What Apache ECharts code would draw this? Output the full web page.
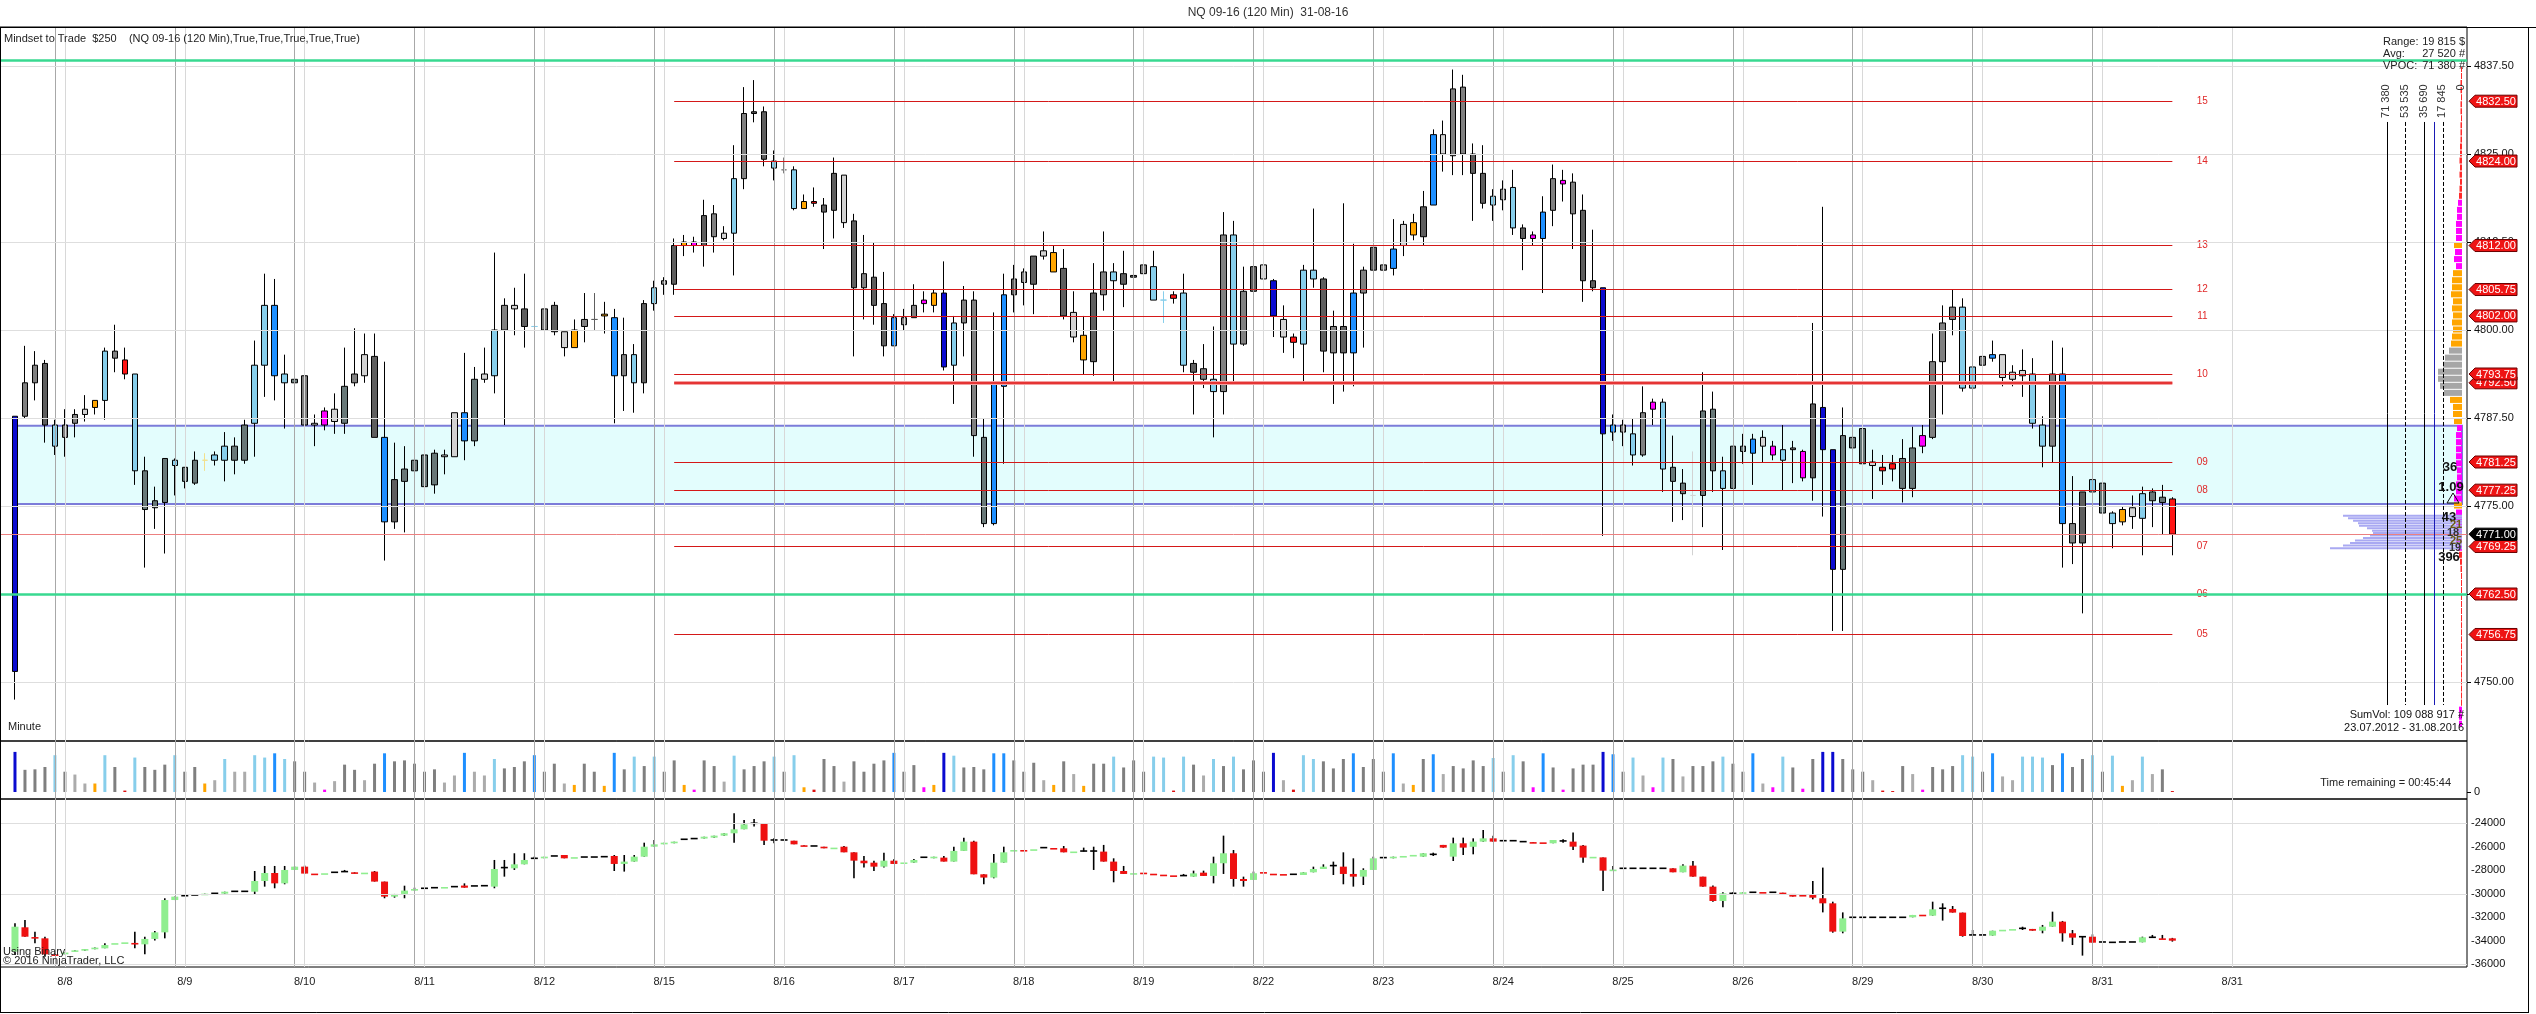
<!DOCTYPE html>
<html><head><meta charset="utf-8">
<script src="https://cdn.jsdelivr.net/npm/echarts@6/dist/echarts.min.js"></script>
<style>html,body{margin:0;padding:0;background:#fff}#c{width:2536px;height:1014px}</style>
</head><body><div id="c"></div>
<script>
// ---------- DATA ----------
const dateLabels = ['8/8','8/9','8/10','8/11','8/12','8/15','8/16','8/17','8/18','8/19','8/22','8/23','8/24','8/25','8/26','8/29','8/30','8/31','8/31'];
const dateIdx = [6,18,30,42,54,66,78,90,102,114,126,138,150,162,174,186,198,210,223];
const sessionIdx = [5,17,29,41,53,65,77,89,101,113,125,137,149,161,173,185,197,209];
const N_CAT = 247;

// price bars [open, close, low, high], bar 1..217
const ohlc = [
[4751.5,4787.75,4747.5,4787.75],[4787.75,4792.5,4787.5,4797.75],[4792.5,4795,4790,4797],[4795.25,4786.5,4784,4795.75],[4786.5,4783.5,4782.25,4787.25],
[4784.75,4786.5,4782,4788.75],[4786.75,4788,4784.75,4788.75],[4788,4788.75,4787,4790.75],[4789,4790,4788,4790],[4790,4797,4787.25,4797.5],
[4797,4796,4794,4800.75],[4795.75,4793.75,4793,4797.5],[4793.75,4780,4778,4793.75],[4780,4774.5,4766.25,4782],[4774.75,4775.75,4771.75,4777.75],
[4775.5,4781.75,4768.25,4781.75],[4781.5,4780.75,4776.5,4781.75],[4780.5,4778.5,4777.5,4780.5],[4778.25,4781.5,4778,4782.75],[4781.5,4781.5,4780,4782.5],
[4781.5,4782.25,4780.75,4782.75],[4781.5,4783.5,4778.5,4785.5],[4783.5,4781.5,4779.5,4784.75],[4781.5,4786.5,4781,4787.25],[4786.75,4795,4782,4798.5],
[4795,4803.5,4790.5,4808],[4803.5,4793.5,4790,4807.25],[4793.75,4792.5,4786,4796.5],[4792.5,4793,4790,4793.75],[4793.5,4786.5,4782,4793.5],
[4786.5,4786.75,4783.5,4788],[4786.5,4788.5,4785.75,4789],[4788.75,4787,4785.25,4791],[4786.75,4792,4785.25,4797.5],[4792.5,4793.75,4792,4800.25],
[4793.5,4796.5,4792.5,4799.5],[4796.25,4784.75,4784.75,4799.5],[4784.75,4772.75,4767.25,4795.5],[4772.75,4778.75,4771.75,4784],[4778.5,4780.25,4771.25,4783.5],
[4780,4781.5,4779,4783],[4782.25,4777.75,4775.75,4782.25],[4778,4782.5,4776.75,4783],[4782.25,4782,4779.5,4783],[4782,4788.25,4782,4788.25],
[4788.25,4784.25,4781.5,4796.75],[4784.25,4793,4783.5,4794.75],[4793,4793.75,4792.5,4797.5],[4793.5,4800,4791,4811],[4800,4803.5,4786.5,4804.5],
[4803.5,4803,4799.25,4806],[4803,4800.5,4797.5,4808],[4800.5,4800.5,4796.5,4802.25],[4800,4803,4799.25,4805],[4803.5,4799.75,4799.25,4804],
[4799.75,4797.5,4796.25,4799.75],[4797.5,4800,4797.5,4801.5],[4800.5,4801.5,4798.25,4805.25],[4801.5,4801.5,4800,4805.25],[4802,4802.25,4799.5,4804],
[4801.75,4793.5,4786.75,4803],[4793.5,4796.5,4788.5,4801.75],[4796.5,4792.5,4788.25,4798],[4792.5,4803.75,4791,4804.25],[4803.75,4806,4802.75,4807],
[4806.5,4807,4805,4807.5],[4806.5,4812,4805,4813],[4812,4812.5,4810.5,4813.5],[4812.5,4812,4811,4813.25],[4812,4816.25,4809,4818.5],
[4816.5,4813.25,4811,4817.75],[4813,4813.75,4812.75,4814.75],[4813.75,4821.5,4807.75,4826.25],[4821.5,4830.75,4820,4834.5],[4830.75,4831,4829.5,4835.5],
[4831,4824.25,4823.25,4831.75],[4824,4823,4821.25,4825.5],[4822.75,4822.75,4822.25,4824.5],[4822.75,4817.25,4817,4823.25],[4817.25,4818.25,4817.25,4819.25],
[4818.25,4818,4817.5,4820.25],[4817.75,4816.75,4811.5,4818.75],[4817,4822.25,4813,4824.5],[4822,4815.25,4814.5,4822],[4815.5,4806,4796.25,4816.5],
[4806,4808,4801.5,4813.5],[4807.5,4803.5,4800.75,4812.5],[4803.75,4797.75,4796.25,4808.25],[4797.75,4801.75,4797.75,4802.25],[4801.75,4800.75,4800,4803],
[4801.75,4803.5,4801.75,4806.5],[4803.75,4804.25,4802.5,4805.5],[4803.5,4805.25,4802.5,4805.75],[4805.25,4794.75,4794.25,4809.75],[4795,4801,4789.5,4802],
[4801,4804.25,4796.25,4806.25],[4804.25,4785,4782,4805.5],[4784.75,4772.5,4772,4787.5],[4772.5,4792.5,4772.25,4802.5],[4792,4805,4781,4808],
[4805,4807.25,4802.5,4809.25],[4806.75,4808.25,4803.5,4808.75],[4806.5,4810.5,4802.25,4810.5],[4810.5,4811.25,4810,4814],[4811,4808.25,4808.25,4812],
[4808.75,4802,4801.5,4811.5],[4802.5,4799,4798.25,4805.5],[4799.25,4795.75,4793.75,4802],[4795.5,4805.25,4793.5,4809.5],[4805,4808.25,4802.75,4814],
[4808.25,4807,4792.75,4809.5],[4806.5,4808,4803.25,4811.25],[4807.75,4807.5,4806.75,4810.25],[4808,4809.25,4806.5,4810.5],[4809,4804.25,4804.25,4811.25],
[4804.25,4804.25,4801,4805.5],[4805,4804.5,4803.75,4805.5],[4805.25,4795,4794,4808],[4795.25,4794,4788,4795.75],[4794.5,4793,4791.75,4798],
[4793,4791.25,4784.75,4800.5],[4791.25,4813.5,4788,4816.75],[4813.5,4798,4792.75,4815.5],[4798,4805.5,4797.75,4809],[4805.5,4809,4805,4809],
[4809.25,4807.25,4804.25,4809.5],[4807,4802,4799,4807.25],[4801.5,4799,4796.75,4803.5],[4799,4798.25,4796,4799.5],[4798,4808.5,4792.75,4809.25],
[4808.5,4807.25,4806,4817.25],[4807.25,4797,4794,4807.5],[4796.75,4800.5,4789.5,4802.75],[4800.5,4796.75,4791.25,4818],[4796.75,4805.25,4792,4812.25],
[4805.25,4808.5,4797.5,4809],[4808.5,4811.75,4808.25,4814],[4809.25,4808.5,4808,4812],[4808.75,4811.5,4807.75,4815.75],[4812,4815,4810.5,4815.5],
[4815.25,4813.5,4812.75,4816.5],[4813.25,4817.5,4812,4819.75],[4817.75,4827.75,4817.75,4828.5],[4827.75,4825,4822.5,4829.75],[4824.75,4834.25,4822,4837],
[4834.5,4825,4822,4836.25],[4825,4822.25,4815.5,4826.5],[4822.25,4818,4817.25,4826.25],[4817.75,4819,4815.5,4820],[4818.5,4820,4817,4821.25],
[4820.25,4814.5,4813.5,4822.75],[4814.5,4813,4808.5,4815],[4813,4813.5,4812,4814],[4813,4816.75,4805.25,4819],[4817,4821.5,4814.75,4823.5],
[4821.25,4820.75,4818.25,4822.75],[4821,4816.5,4811.5,4822.25],[4817,4807,4804,4819.25],[4807,4806,4805.5,4814.25],[4806,4785.25,4770.75,4806],
[4785.5,4786.5,4784.25,4788],[4786.5,4785.5,4783.5,4787.25],[4785.25,4782.25,4780.75,4787.5],[4782.25,4788.25,4782,4792],[4788.75,4789.75,4786.5,4790.25],
[4789.75,4780.25,4777,4790.25],[4780.5,4778.5,4772.75,4785],[4778.25,4776.75,4773,4780.25],[4776.5,4776.5,4768,4782.75],[4776.5,4788.5,4772,4794],
[4788.75,4780,4777,4791.25],[4780,4777.5,4768.75,4782],[4777.5,4783.5,4777.5,4783.5],[4783.5,4782.75,4781,4785.25],[4782.5,4784.5,4778,4785.25],
[4784.75,4783.5,4781.25,4785.75],[4783.5,4782.25,4781.5,4784.25],[4781.5,4783,4777.25,4786.5],[4783,4783.25,4778.25,4784.25],[4782.75,4779,4778.5,4783],
[4779,4789.5,4775.75,4801],[4789,4783,4773.5,4817.5],[4783,4766,4757.25,4783],[4766,4785,4757.25,4789],[4784.75,4783.25,4783,4788.75],
[4786,4781,4774,4788.5],[4781.25,4780.75,4776,4783],[4780.5,4780,4778,4782.25],[4780.25,4781,4778.5,4782.25],[4781.75,4777.5,4775.5,4784.5],
[4777.5,4783.25,4776.25,4786.25],[4783.5,4785,4782.5,4786.5],[4784.75,4795.5,4784.5,4799.5],[4795.5,4801,4788,4803.5],[4801.5,4803.25,4799.25,4805.75],
[4803.25,4791.75,4791.25,4804.5],[4791.75,4794.75,4790.75,4796],[4795,4796.25,4793.5,4796.75],[4796,4796.5,4795.5,4798.5],[4796.5,4793.25,4792,4796.5],
[4793,4794,4792,4795],[4794.25,4793.5,4790.5,4797.25],[4793.75,4786.75,4786,4796],[4786.5,4783.5,4780.5,4787.75],[4783.5,4793.75,4781.25,4798.5],
[4793.75,4772.5,4766.25,4797.5],[4772.5,4769.75,4766.75,4779.25],[4769.75,4777,4759.75,4777],[4777,4778.75,4773.75,4779.5],[4778.25,4774,4773.75,4779.25],
[4774,4772.5,4769,4774.25],[4772.75,4774.5,4772.25,4775],[4773.5,4774.75,4771.75,4776.5],[4773.25,4776.75,4768,4777.75],[4777,4775.75,4772,4777.5],
[4775.5,4776.25,4771,4778],[4776,4771,4768,4776.25]
];
const barColors = ('DB G G DG LB G G LG O LB G R LB SL SL SL LB SL SL Y LB LB SL SL LB LB B LB SL G LG M LG SL G LG DG B DG SL SL SL SL LG LG B SL LG LB G LG DG LB G DG ' +
'LG O G DG O B G LB DG LB G DG O M DG G LG LB G DG DG LB G LB O R DG DG LG DG G DG DG B G G M O DB LB G G SL B B DG G DG LG O DG LG O DG G ' +
'LB DG DG G LB LB R LB DG G LB G LB G DG LG DB LG R LB LB DG G DG B G DG G B LG O DG B LG G G DG DG LB G LB DG M B G M G DG DG DB B G LB G M LB ' +
'SL SL LG SL SL LB SL SL B LG M LB G M DG DB DB SL SL SL LG R R SL SL M G G G LB LB G B LG LG LG LB LB G B G DG LB SL LB O LG LB SL SL R').split(' ');

const volume = [85,47,48,53,78,43,37,18,18,78,53,3,73,53,47,58,78,43,53,18,25,70,43,43,78,73,82,70,65,43,20,5,23,58,47,25,60,82,65,67,60,43,48,20,35,83,43,35,70,50,53,65,78,43,60,
18,15,60,43,13,83,48,75,55,75,43,67,15,5,67,55,22,77,48,55,65,75,43,78,10,5,70,55,22,65,43,60,67,83,43,57,10,15,83,77,52,53,48,82,82,67,43,62,25,15,65,38,13,60,60,
75,52,67,43,75,73,3,75,58,35,70,55,75,48,67,43,83,25,5,78,70,65,50,70,82,53,70,43,82,18,15,70,80,38,55,50,67,55,72,43,78,65,10,82,52,5,50,58,58,85,80,43,73,35,10,73,
70,33,55,55,65,75,60,43,82,18,10,75,52,7,70,85,85,70,48,43,25,3,2,55,38,5,53,48,55,78,75,43,82,33,25,75,75,73,57,82,53,70,78,43,77,13,25,75,38,48,2];
const volColors = ('DB G G G LB G LG LG O LB G R LB G G G LB G G O LG LB LG LG LB LB B LB G G LG M LG G G LG G B G G G G G LG LG B LG LG LB G G G B G G ' +
'LG O G G O B G LB G LB G G O M G G LG LB G G G LB G LB O R G G LG G G G G B G G M O DB LB G G G B B G G G LG O G LG O G G ' +
'LB G G G LB LB R LB G LG LB G LB G G G DB LG R LB LB G G G B G G G B LG O G B LG G G G G LB G LB G M B G M G G G DB B G LB LG M LB ' +
'G LG G G G LB G G B LG M LB G M G DB DB G G G LG R R G LG M G G G LB LB G B LG LG LB LB LB G B G G LB G LB O LG LB LG G R').split(' ');

// lower panel (cumulative delta, "Using Binary") [open, close, low, high]
const delta = [
[-34920,-32800,-35200,-32510],[-32850,-33650,-33650,-32230],[-33680,-33720,-34210,-33220],[-33790,-35150,-35350,-33650],[-35150,-35290,-35290,-35150],
[-35150,-35000,-35150,-35000],[-34920,-34810,-34920,-34810],[-34840,-34700,-34840,-34700],[-34720,-34580,-34720,-34580],[-34640,-34360,-34640,-34210],
[-34240,-34200,-34240,-34200],[-34150,-34130,-34150,-34130],[-34180,-34230,-34640,-33220],[-34300,-33840,-35150,-33650],[-33840,-33280,-33980,-33160],
[-33280,-30530,-33790,-30380],[-30530,-30240,-30530,-30240],[-30160,-30160,-30160,-30160],[-30100,-30100,-30100,-30100],[-30100,-29990,-30100,-29990],
[-29960,-29960,-29960,-29960],[-29990,-29820,-29990,-29820],[-29790,-29790,-29790,-29790],[-29790,-29790,-29790,-29790],[-29820,-28910,-30040,-28060],
[-28910,-28230,-29390,-27630],[-28230,-29110,-29530,-27630],[-29110,-27970,-29190,-27630],[-27970,-27690,-27970,-27690],[-27690,-28280,-28280,-27600],
[-28280,-28310,-28310,-28280],[-28280,-28250,-28280,-28250],[-28170,-28170,-28170,-28170],[-28110,-28110,-28110,-27970],[-28170,-28280,-28280,-28170],
[-28230,-28200,-28230,-28200],[-28110,-28960,-28960,-28060],[-28960,-30240,-30380,-28960],[-30240,-30010,-30330,-30010],[-30010,-29730,-30380,-29310],
[-29730,-29590,-29730,-29480],[-29530,-29530,-29530,-29530],[-29480,-29480,-29480,-29480],[-29500,-29420,-29500,-29420],[-29390,-29390,-29390,-29390],
[-29300,-29480,-29480,-29110],[-29330,-29330,-29330,-29330],[-29310,-29310,-29310,-29310],[-29390,-27890,-29530,-27120],[-27770,-27770,-28540,-27120],
[-27830,-27490,-27970,-26550],[-27490,-27120,-27490,-26550],[-26980,-26980,-26980,-26840],[-26980,-26840,-26980,-26840],[-26780,-26780,-26780,-26780],
[-26700,-26980,-26980,-26700],[-26920,-26880,-26920,-26880],[-26870,-26870,-26870,-26870],[-26870,-26870,-26870,-26870],[-26840,-26840,-26840,-26840],
[-26780,-27460,-28060,-26700],[-27460,-27260,-28110,-26700],[-27260,-26840,-27260,-26700],[-26840,-25990,-26840,-25650],[-25990,-25790,-25990,-25420],
[-25790,-25650,-25790,-25650],[-25700,-25560,-25700,-25560],[-25360,-25360,-25360,-25360],[-25300,-25300,-25300,-25300],[-25300,-25140,-25300,-25140],
[-25220,-25050,-25220,-25050],[-25050,-24850,-25050,-24850],[-24850,-24510,-25650,-23150],[-24510,-24090,-24510,-23720],[-24000,-24000,-24280,-23630],
[-24060,-25480,-25840,-24000],[-25420,-25420,-25700,-25280],[-25420,-25420,-25420,-25420],[-25480,-25790,-25790,-25480],[-25870,-25930,-25930,-25870],
[-25930,-25930,-25930,-25930],[-25990,-26130,-26130,-25990],[-26100,-26070,-26100,-26070],[-25990,-26470,-26470,-25930],[-26470,-27180,-28680,-26470],
[-27180,-27400,-27770,-26780],[-27350,-27690,-28060,-27180],[-27690,-27180,-27770,-26500],[-27180,-27460,-27460,-27060],[-27360,-27330,-27360,-27330],
[-27350,-27120,-27350,-27040],[-26890,-26890,-26890,-26890],[-26980,-26840,-26980,-26840],[-26920,-27260,-27260,-26780],[-27260,-26350,-27260,-25990],
[-26350,-25560,-26350,-25220],[-25560,-28340,-28340,-25480],[-28340,-28620,-29190,-28340],[-28620,-27350,-28680,-26610],[-27350,-26470,-27350,-25990],
[-26360,-26270,-26360,-26270],[-26270,-26300,-26300,-26270],[-26240,-26210,-26240,-26210],[-26070,-26070,-26070,-26070],[-26100,-26140,-26140,-26100],
[-26130,-26470,-26470,-25930],[-26440,-26400,-26440,-26400],[-26360,-26360,-26400,-26070],[-26360,-26360,-27970,-25990],[-26410,-27260,-27260,-25840],
[-27260,-28060,-29020,-26980],[-28060,-28310,-28310,-27630],[-28270,-28240,-28270,-28240],[-28200,-28230,-28230,-28200],[-28290,-28320,-28320,-28290],
[-28370,-28400,-28400,-28370],[-28430,-28460,-28460,-28430],[-28450,-28450,-28450,-28310],[-28540,-28260,-28540,-28030],[-28200,-28480,-28480,-28030],
[-28480,-27400,-29110,-26840],[-27400,-26550,-28310,-25050],[-26550,-28740,-29390,-26270],[-28740,-28910,-29390,-28540],[-28820,-28250,-28820,-28110],
[-28150,-28180,-28180,-28150],[-28290,-28320,-28320,-28290],[-28320,-28360,-28360,-28320],[-28340,-28340,-28340,-28340],[-28400,-28170,-28400,-28170],
[-28170,-27890,-28170,-27690],[-27890,-27690,-27890,-27490],[-27600,-27600,-28400,-27260],[-27690,-28310,-29190,-26470],[-28310,-28540,-29390,-26980],
[-28540,-27970,-29250,-27830],[-27970,-26980,-27970,-26840],[-26920,-26920,-26920,-26920],[-26980,-26840,-26980,-26840],[-26810,-26780,-26810,-26780],
[-26720,-26690,-26720,-26690],[-26840,-26550,-26840,-26550],[-26640,-26640,-26780,-26500],[-25840,-26070,-26070,-25840],[-26840,-25700,-27210,-25220],
[-25700,-26070,-26700,-25220],[-26000,-25560,-26640,-25280],[-25560,-25280,-25560,-24570],[-25280,-25560,-25560,-25050],[-25480,-25480,-25480,-25480],
[-25480,-25480,-25480,-25480],[-25560,-25560,-25560,-25560],[-25600,-25650,-25650,-25600],[-25620,-25660,-25660,-25620],[-25700,-25420,-25700,-25420],
[-25500,-25500,-25650,-25360],[-25560,-25990,-26270,-24790],[-25900,-26920,-27350,-25840],[-26880,-26850,-26880,-26850],[-26900,-28030,-29760,-26900],
[-27970,-27940,-27970,-27630],[-27830,-27830,-27830,-27830],[-27830,-27830,-27830,-27830],[-27830,-27830,-27830,-27830],[-27830,-27830,-27830,-27830],
[-27830,-27830,-27830,-27830],[-27830,-28170,-28170,-27830],[-28170,-27600,-28170,-27490],[-27600,-28540,-28540,-27210],[-28540,-29390,-29390,-28540],
[-29390,-30610,-30670,-29300],[-30610,-29960,-31150,-29870],[-29960,-29960,-30100,-29870],[-29960,-29870,-29960,-29870],[-29870,-29870,-29870,-29870],
[-29850,-29890,-29890,-29850],[-29870,-29870,-29870,-29870],[-29900,-29990,-29990,-29900],[-30010,-30240,-30240,-30010],[-30100,-30190,-30190,-30010],
[-30100,-30330,-30470,-28910],[-30380,-30810,-31580,-27770],[-30810,-33220,-33310,-30670],[-33220,-32090,-33360,-31580],[-32000,-32000,-32000,-32000],
[-32000,-32000,-32000,-32000],[-32000,-32000,-32000,-32000],[-32000,-32000,-32000,-32000],[-32000,-32000,-32000,-32000],[-32000,-32000,-32000,-32000],
[-32000,-31800,-32000,-31800],[-31780,-31820,-31820,-31780],[-31860,-31320,-31860,-30670],[-31230,-31230,-32280,-30810],[-31290,-31600,-31600,-31040],
[-31600,-33590,-33650,-31600],[-33500,-33500,-33500,-33080],[-33500,-33500,-33500,-33500],[-33560,-33140,-33560,-33140],[-33100,-33060,-33100,-33060],
[-33040,-33000,-33040,-33000],[-32940,-32940,-33080,-32800],[-32990,-33140,-33140,-32990],[-33140,-32800,-33360,-32650],[-32800,-32370,-32800,-31520],
[-32370,-33360,-34070,-32310],[-33360,-33730,-34360,-33080],[-33650,-33650,-35260,-33650],[-33650,-34160,-34160,-33450],[-34100,-34100,-34100,-34100],
[-34130,-34130,-34130,-34130],[-34100,-34100,-34100,-34100],[-34100,-34100,-34100,-34100],[-34130,-33700,-34130,-33650],[-33700,-33700,-33700,-33500],
[-33790,-33850,-33850,-33500],[-33790,-33990,-34070,-33750]
];

const priceTicks = [4750, 4762.5, 4775, 4787.5, 4800, 4812.5, 4825, 4837.5];
const deltaTicks = [-24000, -26000, -28000, -30000, -32000, -34000, -36000];
const deltaGrid = [-24000, -30000, -36000];

const levelPrices = [4832.5, 4824, 4812, 4805.75, 4802, 4793.75, 4781.25, 4777.25, 4769.25, 4762.5, 4756.75];
const levelNames = ['15','14','13','12','11','10','09','08','07','06','05'];
const thickLevel = 4792.5;
const tagPrices = [4832.5, 4824, 4812, 4805.75, 4802, 4792.5, 4793.75, 4781.25, 4777.25, 4769.25, 4771, 4762.5, 4756.75];
const currentPrice = 4771;
const greenLevels = [4838.25, 4762.5];
const band = [4775.3, 4786.4];

// volume profile on the right [price, volume, colour]
const profile = [
[4837,950,'R'],[4836,950,'R'],[4835,1430,'R'],[4834,1430,'R'],[4833,950,'R'],[4832,1430,'R'],[4831,1430,'R'],[4830,950,'R'],
[4829,1430,'R'],[4828,1430,'R'],[4827,1430,'R'],[4826,1900,'R'],[4825,1900,'R'],[4824,2380,'R'],[4823,1900,'R'],[4822,2380,'R'],
[4821,1900,'R'],[4820,2380,'R'],[4819,2860,'R'],[4818,3810,'M'],[4817,4760,'M'],[4816,4760,'M'],[4815,5710,'M'],[4814,5710,'M'],
[4813,5710,'M'],[4812,7610,'O'],[4811,6660,'M'],[4810,7610,'M'],[4809,5710,'M'],[4808,8570,'O'],[4807,9520,'O'],[4806,9520,'O'],
[4805,10470,'O'],[4804,8570,'O'],[4803,9520,'O'],[4802,8570,'O'],[4801,9520,'O'],[4800,8570,'O'],[4799,9520,'O'],[4798,10470,'O'],
[4797,12370,'G'],[4796,16180,'G'],[4795,18080,'G'],[4794,22840,'G'],[4793,22840,'G'],[4792,20940,'G'],[4791,17130,'G'],[4790,11420,'O'],
[4789,8570,'O'],[4788,8570,'O'],[4787,7610,'O'],[4786,4760,'M'],[4785,5710,'M'],[4784,5710,'M'],[4783,5710,'M'],[4782,5710,'M'],
[4781,5710,'M'],[4780,4760,'M'],[4779,4760,'M'],[4778,5710,'M'],[4777,5710,'M'],[4776,7610,'M'],[4775,7610,'O'],[4774,5710,'M'],
[4773,6660,'M'],[4772,5710,'M'],[4771,4760,'M'],[4770,5710,'M'],[4769,3810,'M'],[4768,2860,'R'],[4767,1900,'R'],[4766,1430,'R'],
[4765,950,'R'],[4764,950,'R'],[4763,950,'R'],[4762,950,'R'],[4761,950,'R'],[4760,950,'R'],[4759,950,'R'],[4758,950,'R'],
[4757,950,'R'],[4756,950,'R'],[4755,950,'R'],[4754,950,'R'],[4753,950,'R'],[4752,950,'R'],[4751,950,'R'],[4750,950,'R'],
[4749,950,'R'],[4748,950,'R'],[4747,950,'R'],[4746,2860,'M'],[4745,2860,'M'],[4744,2860,'M']
];
const lavPrice = [4773.6,4773.25,4772.9,4772.55,4772.2,4771.85,4771.5,4771.15,4770.8,4770.45,4770.1,4769.75,4769.4,4769.0];
const lavVol = [113250,108500,103700,98980,98030,90410,85650,84700,87560,94220,101830,106590,113250,125620];
const scaleValues = [71380, 53535, 35690, 17845, 0];
const scaleDashed = [false, true, false, true];
const avgLine = 26650;

// ---------- HELPERS ----------
const FONT = '"Liberation Sans", Arial, sans-serif';
const candleCol = {DB:'#0b0bd0',B:'#1e8fff',LB:'#87ceeb',G:'#808080',DG:'#5e5e5e',LG:'#d2d2d2',SL:'#687878',O:'#ffa500',R:'#ff1414',M:'#ff00ff',Y:'#f2e08c'};
const volCol = {DB:'#0b0bd0',B:'#1e8fff',LB:'#87ceeb',G:'#7f7f7f',LG:'#ababab',O:'#ffa500',R:'#dd1010',M:'#ff00ff'};
const profCol = {R:'#ff2a2a',M:'#ff00ff',O:'#ffa500',G:'#a6a6a6'};

const cats = [];
for (let i = 0; i < N_CAT; i++) cats.push(String(i));
const labelAt = {};
dateIdx.forEach((ix, k) => { labelAt[ix] = dateLabels[k]; });

const candleData = ohlc.map((b, k) => {
  const c = candleCol[barColors[k]];
  const doji = b[0] === b[1];
  const bc = doji ? c : '#000';
  return {value: [k + 1, b[0], b[1], b[2], b[3]],
    itemStyle: {color: c, color0: c, borderColor: bc, borderColor0: bc, borderColorDoji: bc}};
});
const volData = volume.map((v, k) => ({value: [k + 1, v], itemStyle: {color: volCol[volColors[k]]}}));
const deltaData = delta.map((b, k) => [k + 1, b[0], b[1], b[2], b[3]]);

function vLines(){
  const arr = [];
  sessionIdx.forEach(i => arr.push({xAxis: i, lineStyle: {color: '#a8a8a8', width: 1, type: 'solid'}}));
  dateIdx.forEach(i => arr.push({xAxis: i, lineStyle: {color: '#d8d8d8', width: 1, type: 'solid'}}));
  return arr;
}
const mlBase = {symbol: ['none','none'], silent: true, label: {show: false}, animation: false};

const priceLines = [];
levelPrices.forEach(p => priceLines.push([{coord: [67, p], lineStyle: {color: '#d41818', width: 1, type: 'solid'}}, {coord: [217, p]}]));
priceLines.push([{coord: [67, thickLevel], lineStyle: {color: '#f4a0a0', width: 4, type: 'solid'}}, {coord: [217, thickLevel]}]);
priceLines.push([{coord: [67, thickLevel], lineStyle: {color: '#e01010', width: 1.5, type: 'solid'}}, {coord: [217, thickLevel]}]);
priceLines.push({yAxis: currentPrice, lineStyle: {color: '#ec8080', width: 1, type: 'solid'}});
greenLevels.forEach(p => priceLines.push({yAxis: p, lineStyle: {color: '#38d990', width: 2.5, type: 'solid'}}));
priceLines.push([{coord: [71, 4762.5], lineStyle: {color: '#38d990', width: 2.5, type: 'solid'}}, {coord: [71, 4741.6]}]);

const txt = (x, y, text, opt) => ({type: 'text', x, y, z: 50, style: Object.assign({text, fill: '#222', font: '11px ' + FONT, align: 'left', verticalAlign: 'middle', textAlign: 'left', textVerticalAlign: 'middle'}, opt || {})});

// ---------- CHART ----------
const chart = echarts.init(document.getElementById('c'), null, {renderer: 'canvas'});
const option = {
  animation: false,
  backgroundColor: '#ffffff',
  grid: [
    {left: -1, top: 27, width: 2468, height: 714, show: true, borderColor: '#000', borderWidth: 1, backgroundColor: 'transparent'},
    {left: -1, top: 741, width: 2468, height: 58, show: true, borderColor: '#000', borderWidth: 1, backgroundColor: 'transparent'},
    {left: -1, top: 799, width: 2468, height: 168, show: true, borderColor: '#000', borderWidth: 1, backgroundColor: 'transparent'},
    {left: 2300, top: 27, width: 162, height: 714, show: false}
  ],
  xAxis: [
    {gridIndex: 0, type: 'category', data: cats, boundaryGap: true, axisLine: {show: false}, axisTick: {show: false}, axisLabel: {show: false}, splitLine: {show: false}},
    {gridIndex: 1, type: 'category', data: cats, boundaryGap: true, axisLine: {show: false}, axisTick: {show: false}, axisLabel: {show: false}, splitLine: {show: false}},
    {gridIndex: 2, type: 'category', data: cats, boundaryGap: true, axisLine: {show: false}, axisTick: {show: false}, splitLine: {show: false},
      axisLabel: {show: true, interval: 0, margin: 9, color: '#222', fontSize: 11, fontFamily: FONT, formatter: (v, i) => labelAt[i] || ''}},
    {gridIndex: 3, type: 'value', inverse: true, min: 0, max: 154180, show: false}
  ],
  yAxis: [
    {gridIndex: 0, type: 'value', position: 'right', min: 4741.62, max: 4843.04, splitLine: {show: false}, axisLine: {show: false},
      axisTick: {show: true, length: 4, lineStyle: {color: '#000'}, customValues: priceTicks},
      axisLabel: {customValues: priceTicks, formatter: v => Number(v).toFixed(2), margin: 7, color: '#111', fontSize: 11, fontFamily: FONT}},
    {gridIndex: 1, type: 'value', position: 'right', min: -14.84, max: 108.1, splitLine: {show: false}, axisLine: {show: false},
      axisTick: {show: true, length: 4, lineStyle: {color: '#000'}, customValues: [0]},
      axisLabel: {customValues: [0], formatter: v => (Math.abs(v) < 1e-6 ? '0' : ''), margin: 7, color: '#111', fontSize: 11, fontFamily: FONT}},
    {gridIndex: 2, type: 'value', position: 'right', min: -36229, max: -21932, splitLine: {show: false}, axisLine: {show: false},
      axisTick: {show: false, customValues: deltaTicks},
      axisLabel: {customValues: deltaTicks, formatter: v => String(Math.round(v)), margin: 4, color: '#111', fontSize: 11, fontFamily: FONT}},
    {gridIndex: 3, type: 'value', min: 4741.62, max: 4843.04, show: false}
  ],
  series: [
    {type: 'line', xAxisIndex: 0, yAxisIndex: 0, data: [], z: 0,
      markArea: {silent: true, itemStyle: {color: '#e3fdfd', borderColor: '#7c7cd9', borderWidth: 2},
        data: [[{xAxis: 1, yAxis: band[0]}, {xAxis: 246, yAxis: band[1]}]]}},
    {type: 'line', xAxisIndex: 0, yAxisIndex: 0, data: [], z: 1,
      markLine: Object.assign({}, mlBase, {data: vLines().concat(priceTicks.map(p => ({yAxis: p, lineStyle: {color: '#dedede', width: 1, type: 'solid'}})))})},
    {type: 'line', xAxisIndex: 0, yAxisIndex: 0, data: [], z: 2,
      markLine: Object.assign({}, mlBase, {data: priceLines})},
    {type: 'candlestick', xAxisIndex: 0, yAxisIndex: 0, z: 3, barWidth: 6, encode: {x: 0, y: [1, 2, 3, 4]},
      itemStyle: {borderWidth: 1}, data: candleData},
    {type: 'custom', xAxisIndex: 0, yAxisIndex: 0, z: 4, clip: false,
      data: levelPrices.map(p => [220, p]),
      renderItem: (params, api) => {
        const pt = api.coord([api.value(0), api.value(1)]);
        return {type: 'text', x: pt[0], y: pt[1], style: {text: levelNames[params.dataIndex], fill: '#e02828', font: '10px ' + FONT,
          align: 'center', verticalAlign: 'middle', textAlign: 'center', textVerticalAlign: 'middle'}};
      }},
    {type: 'custom', xAxisIndex: 0, yAxisIndex: 0, z: 10, clip: false,
      data: tagPrices.map(p => [0, p]),
      renderItem: (params, api) => {
        const p = api.value(1);
        const y = api.coord([0, p])[1];
        const x0 = params.coordSys.x + params.coordSys.width;
        const black = p === currentPrice;
        return {type: 'group', children: [
          {type: 'polygon', shape: {points: [[x0 + 2, y], [x0 + 8, y - 6], [x0 + 50, y - 6], [x0 + 50, y + 6], [x0 + 8, y + 6]]},
            style: {fill: black ? '#000' : '#ee1414', stroke: black ? '#000' : '#6a0000', lineWidth: 1}},
          {type: 'text', x: x0 + 29, y: y + 0.5, style: {text: p.toFixed(2), fill: '#fff', font: '11px ' + FONT,
            align: 'center', verticalAlign: 'middle', textAlign: 'center', textVerticalAlign: 'middle'}}
        ]};
      }},
    {type: 'line', xAxisIndex: 1, yAxisIndex: 1, data: [], z: 1, markLine: Object.assign({}, mlBase, {data: vLines()})},
    {type: 'bar', xAxisIndex: 1, yAxisIndex: 1, z: 3, barWidth: 3, data: volData},
    {type: 'line', xAxisIndex: 2, yAxisIndex: 2, data: [], z: 1,
      markLine: Object.assign({}, mlBase, {data: vLines().concat(deltaGrid.map(v => ({yAxis: v, lineStyle: {color: '#dedede', width: 1, type: 'solid'}})))})},
    {type: 'custom', xAxisIndex: 2, yAxisIndex: 2, z: 3, data: deltaData,
      renderItem: (params, api) => {
        const x = api.coord([api.value(0), 0])[0];
        const o = api.value(1), c = api.value(2), l = api.value(3), h = api.value(4);
        const yo = api.coord([0, o])[1], yc = api.coord([0, c])[1], yl = api.coord([0, l])[1], yh = api.coord([0, h])[1];
        const ch = [];
        if (Math.abs(yl - yh) > 0.5) ch.push({type: 'line', shape: {x1: x, y1: yh, x2: x, y2: yl}, style: {stroke: '#000', lineWidth: 1.6}});
        if (o === c) {
          ch.push({type: 'line', shape: {x1: x - 3.5, y1: yo, x2: x + 3.5, y2: yo}, style: {stroke: '#000', lineWidth: 1.6}});
        } else {
          const top = Math.min(yo, yc), hh = Math.max(1.6, Math.abs(yo - yc));
          ch.push({type: 'rect', shape: {x: x - 3.5, y: top, width: 7, height: hh}, style: {fill: c > o ? '#90ee90' : '#ee1111'}});
        }
        return {type: 'group', children: ch};
      }},
    {type: 'custom', xAxisIndex: 3, yAxisIndex: 3, z: 4, clip: false,
      data: profile.map(r => [r[1], r[0]]),
      renderItem: (params, api) => {
        const v = api.value(0), p = api.value(1);
        const a = api.coord([v, p + 0.5]), b = api.coord([0, p - 0.5]);
        return {type: 'rect', shape: {x: a[0], y: a[1], width: Math.max(1, b[0] - a[0]), height: Math.max(1, b[1] - a[1] - 1)},
          style: {fill: profCol[profile[params.dataIndex][2]]}};
      }},
    {type: 'custom', xAxisIndex: 3, yAxisIndex: 3, z: 4, clip: false,
      data: lavPrice.map((p, k) => [lavVol[k], p]),
      renderItem: (params, api) => {
        const a = api.coord([api.value(0), api.value(1)]), b = api.coord([0, api.value(1)]);
        return {type: 'rect', shape: {x: a[0], y: a[1] - 1, width: b[0] - a[0], height: 2}, style: {fill: '#a9a9f2'}};
      }},
    {type: 'line', xAxisIndex: 3, yAxisIndex: 3, data: [], z: 3,
      markLine: Object.assign({}, mlBase, {data:
        scaleValues.slice(0, 4).map((v, k) => [{coord: [v, 4829.55], lineStyle: {color: '#000', width: 1, type: scaleDashed[k] ? 'dashed' : 'solid'}}, {coord: [v, 4746.73]}])
        .concat([[{coord: [avgLine, 4829.55], lineStyle: {color: '#1a1ab4', width: 1, type: 'solid'}}, {coord: [avgLine, 4746.73]}]])})},
    {type: 'custom', xAxisIndex: 3, yAxisIndex: 3, z: 5, clip: false,
      data: scaleValues.map(v => [v, 4834.9]),
      renderItem: (params, api) => {
        const pt = api.coord([api.value(0), api.value(1)]);
        const v = api.value(0);
        const t = v === 0 ? '0' : (Math.floor(v / 1000) + ' ' + String(v % 1000).padStart(3, '0'));
        return {type: 'text', x: pt[0] - 1, y: pt[1], rotation: Math.PI / 2,
          style: {text: t, fill: '#333', font: '11px ' + FONT, align: 'right', verticalAlign: 'middle', textAlign: 'right', textVerticalAlign: 'middle'}};
      }}
  ],
  graphic: [
    txt(1268, 13, 'NQ 09-16 (120 Min)  31-08-16', {align: 'center', textAlign: 'center', font: '12px ' + FONT, fill: '#333'}),
    txt(4, 39, 'Mindset to Trade  $250    (NQ 09-16 (120 Min),True,True,True,True,True)'),
    txt(8, 727, 'Minute'),
    txt(2383, 42, 'Range:'), txt(2465, 42, '19 815 $', {align: 'right', textAlign: 'right'}),
    txt(2383, 54, 'Avg:'), txt(2465, 54, '27 520 #', {align: 'right', textAlign: 'right'}),
    txt(2383, 66, 'VPOC:'), txt(2465, 66, '71 380 #', {align: 'right', textAlign: 'right'}),
    txt(2464, 715, 'SumVol: 109 088 917 #', {align: 'right', textAlign: 'right', fill: '#111'}),
    txt(2464, 728, '23.07.2012 - 31.08.2016', {align: 'right', textAlign: 'right', fill: '#111'}),
    txt(2451, 783, 'Time remaining = 00:45:44', {align: 'right', textAlign: 'right'}),
    txt(3, 952, 'Using Binary'),
    txt(3, 961, '\u00a9 2016 NinjaTrader, LLC'),
    txt(2450, 467, '36', {align: 'center', textAlign: 'center', font: 'bold 13px ' + FONT, fill: '#111'}),
    txt(2451, 487, '1.09', {align: 'center', textAlign: 'center', font: 'bold 13px ' + FONT, fill: '#111'}),
    {type: 'polygon', z: 50, shape: {points: [[2453, 493], [2459, 503], [2447, 503]]}, style: {fill: 'none', stroke: '#111', lineWidth: 1}},
    txt(2449, 517, '43', {align: 'center', textAlign: 'center', font: 'bold 13px ' + FONT, fill: '#111'}),
    txt(2456, 525, '21', {align: 'center', textAlign: 'center', font: 'bold 11px ' + FONT, fill: '#6b5a12'}),
    txt(2453, 533, '18', {align: 'center', textAlign: 'center', font: 'bold 11px ' + FONT, fill: '#333'}),
    txt(2456, 541, '25', {align: 'center', textAlign: 'center', font: 'bold 11px ' + FONT, fill: '#6b5a12'}),
    txt(2455, 548, '19', {align: 'center', textAlign: 'center', font: 'bold 11px ' + FONT, fill: '#333'}),
    txt(2449, 557, '396', {align: 'center', textAlign: 'center', font: 'bold 13px ' + FONT, fill: '#111'}),
    {type: 'line', z: 60, shape: {x1: 0, y1: 27.5, x2: 2536, y2: 27.5}, style: {stroke: '#000', lineWidth: 1}},
    {type: 'line', z: 60, shape: {x1: 0.5, y1: 27, x2: 0.5, y2: 1013}, style: {stroke: '#000', lineWidth: 1}},
    {type: 'line', z: 60, shape: {x1: 0, y1: 1012.5, x2: 2529, y2: 1012.5}, style: {stroke: '#000', lineWidth: 1}},
    {type: 'line', z: 60, shape: {x1: 2528.5, y1: 27, x2: 2528.5, y2: 1013}, style: {stroke: '#000', lineWidth: 1}}
  ]
};
chart.setOption(option);
</script>
</body></html>
